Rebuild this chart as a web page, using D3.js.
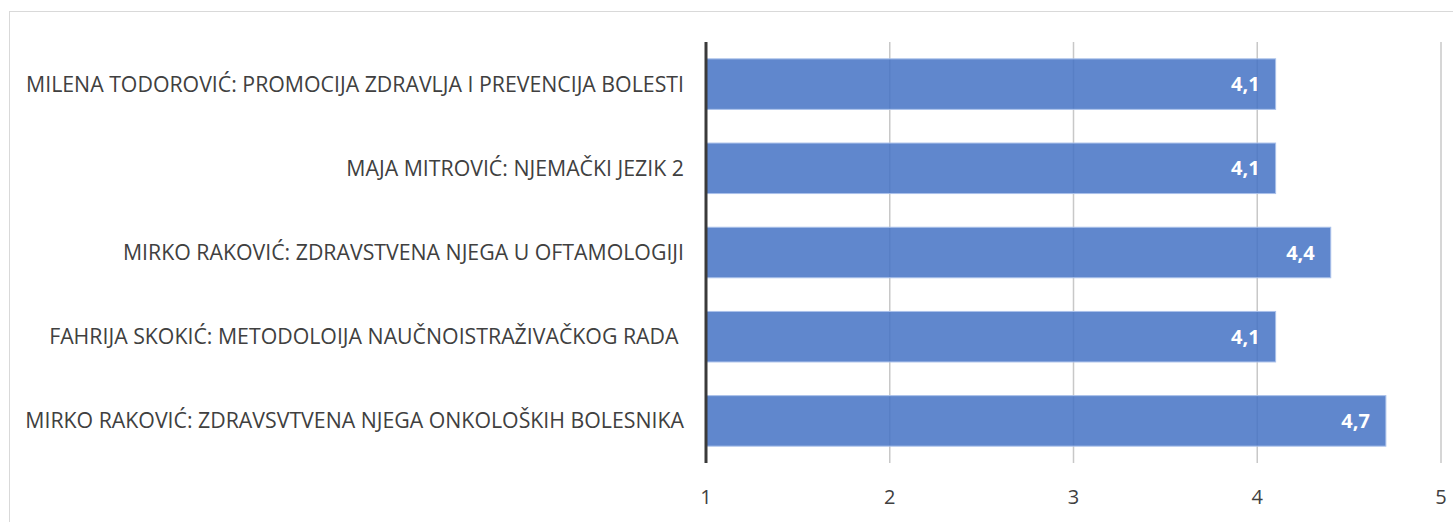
<!DOCTYPE html>
<html>
<head>
<meta charset="utf-8">
<script src="https://d3js.org/d3.v7.min.js"></script>
<style>
  html, body { margin: 0; padding: 0; background: #fff; }
  svg { display: block; font-family: 'Open Sans', 'Liberation Sans', Arial, sans-serif; }
</style>
</head>
<body>
<svg id="chart" width="1453" height="522"></svg>
<script>
// --- data ---
const categories = [
  "MILENA TODOROVIĆ: PROMOCIJA ZDRAVLJA I PREVENCIJA BOLESTI",
  "MAJA MITROVIĆ: NJEMAČKI JEZIK 2",
  "MIRKO RAKOVIĆ: ZDRAVSTVENA NJEGA U OFTAMOLOGIJI",
  "FAHRIJA SKOKIĆ: METODOLOIJA NAUČNOISTRAŽIVAČKOG RADA ",
  "MIRKO RAKOVIĆ: ZDRAVSVTVENA NJEGA ONKOLOŠKIH BOLESNIKA"
];
const values = [4.1, 4.1, 4.4, 4.1, 4.7];
const xTicks = [1, 2, 3, 4, 5];

const svg = d3.select("#chart");
const W = 1453, H = 522;

// outer chart frame
svg.append("rect")
  .attr("x", 9.5).attr("y", 11.5)
  .attr("width", W).attr("height", H)
  .attr("fill", "none").attr("stroke", "#d9d9d9").attr("stroke-width", 1);

const plot = { left: 706, right: 1441, top: 42, bottom: 463 };

const x = d3.scaleLinear().domain([1, 5]).range([plot.left, plot.right]);
const y = d3.scaleBand().domain(categories).range([plot.top, plot.bottom]).paddingInner(0.4).paddingOuter(0.2);

// gridlines
svg.append("g")
  .selectAll("line")
  .data(xTicks.slice(1))
  .join("line")
  .attr("x1", d => x(d)).attr("x2", d => x(d))
  .attr("y1", plot.top).attr("y2", plot.bottom)
  .attr("stroke", "#c8c8c8").attr("stroke-width", 1.5);

// bars
svg.append("g")
  .selectAll("rect")
  .data(categories)
  .join("rect")
  .attr("x", x(1))
  .attr("y", d => y(d))
  .attr("width", (d, i) => x(values[i]) - x(1))
  .attr("height", y.bandwidth())
  .attr("fill", "#4472c4").attr("fill-opacity", 0.85)
  .attr("stroke", "#aac1ea").attr("stroke-width", 1);

// value labels
const fmt = v => d3.format(".1f")(v).replace(".", ",");
svg.append("g")
  .selectAll("text")
  .data(categories)
  .join("text")
  .attr("x", (d, i) => x(values[i]) - 16)
  .attr("y", d => y(d) + y.bandwidth() / 2)
  .attr("dy", "0.35em")
  .attr("text-anchor", "end")
  .attr("fill", "#fff")
  .attr("font-weight", "bold")
  .attr("font-size", 20)
  .text((d, i) => fmt(values[i]));

// category axis line
svg.append("line")
  .attr("x1", plot.left).attr("x2", plot.left)
  .attr("y1", plot.top).attr("y2", plot.bottom)
  .attr("stroke", "#3a3a3a").attr("stroke-width", 3);

// category labels
svg.append("g")
  .selectAll("text")
  .data(categories)
  .join("text")
  .attr("x", plot.left - 22)
  .attr("y", d => y(d) + y.bandwidth() / 2)
  .attr("dy", "0.35em")
  .attr("text-anchor", "end")
  .attr("fill", "#404040")
  .attr("font-size", 21.3)
  .style("white-space", "pre")
  .text(d => d);

// x tick labels
svg.append("g")
  .selectAll("text")
  .data(xTicks)
  .join("text")
  .attr("x", d => x(d))
  .attr("y", 497)
  .attr("dy", "0.35em")
  .attr("text-anchor", "middle")
  .attr("fill", "#404040")
  .attr("font-size", 20)
  .text(d => d);
</script>
</body>
</html>
